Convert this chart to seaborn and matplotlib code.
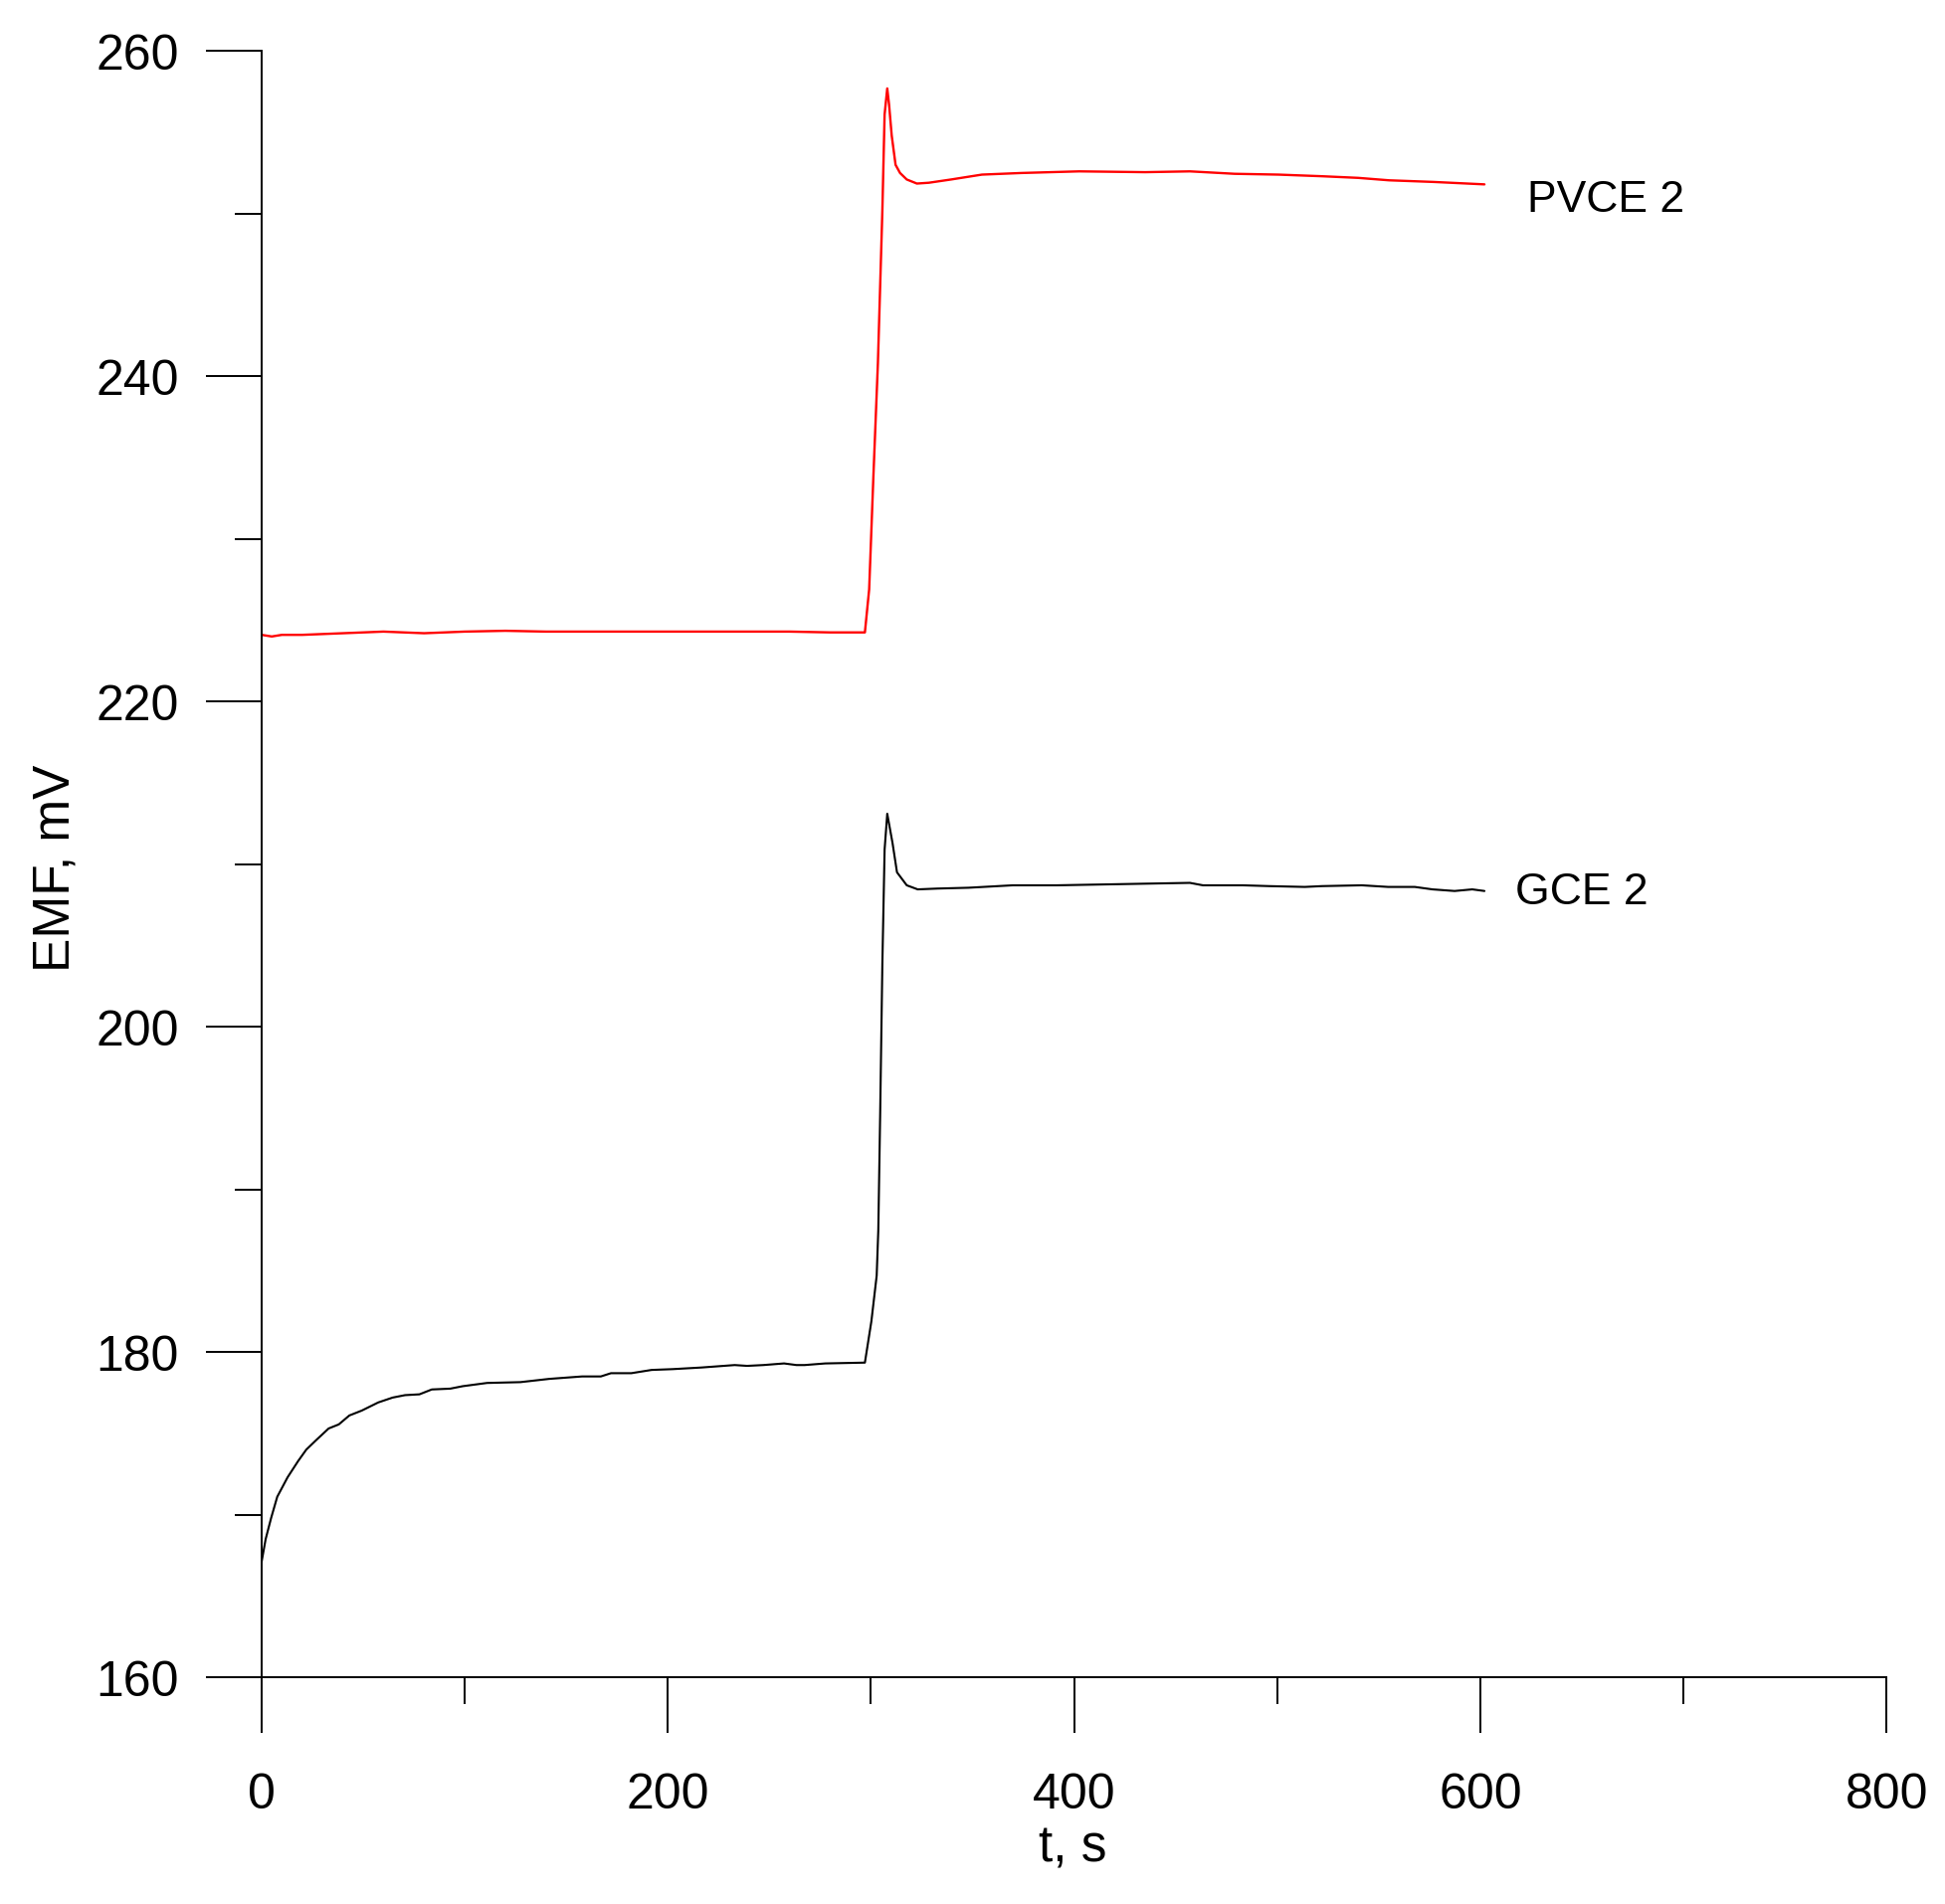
import matplotlib
matplotlib.use("Agg")
import matplotlib.pyplot as plt
import seaborn as sns
import pandas as pd
from matplotlib.ticker import MultipleLocator

# PVCE 2 (red) trace
t_pvce = [0, 5, 10, 20, 40, 60, 80, 100, 120, 140, 160, 180, 200, 220, 240, 260, 280, 297,
          299.1, 301.2, 303.4, 305.6, 306.7, 308, 308.9, 310.2, 312.1, 314.3, 317.6, 322.6,
          328.5, 339.4, 354.6, 374.2, 402.5, 435, 457, 479, 500.6, 522, 539.8, 555, 576.8, 602]
emf_pvce = [224.1, 224.0, 224.1, 224.1, 224.2, 224.3, 224.2, 224.3, 224.35, 224.3, 224.3, 224.3,
            224.3, 224.3, 224.3, 224.3, 224.25, 224.25,
            226.9, 233.9, 240.8, 250.2, 256.1, 257.7, 256.7, 254.8, 253.0, 252.5, 252.1, 251.85,
            251.9, 252.1, 252.4, 252.5, 252.6, 252.55, 252.6, 252.45, 252.4, 252.3, 252.2, 252.05,
            251.95, 251.8]

# GCE 2 (black) trace
t_gce = [0, 2, 4.7, 7.7, 12.8, 18, 22, 27, 33, 38, 43.2, 49.3, 57.4, 64.5, 70.6, 77.7, 83.8,
         92.9, 99, 111, 127.4, 141.6, 157.8, 167, 172, 182, 192, 202.4, 216.6, 232.9, 239, 247,
         257.2, 263.3, 267.3, 277.5, 297,
         300.2, 302.8, 303.6, 304.5, 305.6, 306.7, 308, 310.6, 312.8, 317.6, 323, 332.8, 348,
         369.8, 391.6, 413.4, 435.1, 457, 463.4, 483, 496, 513.5, 522, 541.6, 554.6, 567.7,
         576.4, 587.3, 596, 602]
emf_gce = [167.1, 168.5, 169.8, 171.1, 172.3, 173.3, 174.0, 174.6, 175.3, 175.55, 176.1, 176.4,
           176.9, 177.2, 177.35, 177.4, 177.7, 177.75, 177.9, 178.1, 178.15, 178.35, 178.5,
           178.5, 178.7, 178.7, 178.9, 178.95, 179.05, 179.2, 179.15, 179.2, 179.3, 179.2,
           179.2, 179.3, 179.35,
           181.9, 184.7, 187.5, 194.5, 203.9, 210.9, 213.1, 211.3, 209.5, 208.7, 208.45, 208.5,
           208.55, 208.7, 208.7, 208.75, 208.8, 208.85, 208.7, 208.7, 208.65, 208.6, 208.65,
           208.7, 208.6, 208.6, 208.45, 208.35, 208.45, 208.35]

x_ticks = [0, 200, 400, 600, 800]
y_ticks = [160, 180, 200, 220, 240, 260]

sns.set_style("ticks")
plt.rcParams["font.family"] = ["Liberation Sans", "DejaVu Sans"]
plt.rcParams["text.color"] = "black"
plt.rcParams["axes.labelcolor"] = "black"
plt.rcParams["xtick.color"] = "black"
plt.rcParams["ytick.color"] = "black"

fig = plt.figure(figsize=(19.55, 19.15), dpi=100)
ax = fig.add_axes([0.1345, 0.119, 0.8355, 0.8537])

df_pvce = pd.DataFrame({"t": t_pvce, "emf": emf_pvce})
df_gce = pd.DataFrame({"t": t_gce, "emf": emf_gce})
sns.lineplot(data=df_pvce, x="t", y="emf", ax=ax, color="#ff0000", linewidth=1.7,
             estimator=None, sort=False)
sns.lineplot(data=df_gce, x="t", y="emf", ax=ax, color="black", linewidth=1.5,
             estimator=None, sort=False)

# curve labels
ax.text(623, 250.85, "PVCE 2", fontsize=32, va="center", ha="left", color="black")
ax.text(617, 208.3, "GCE 2", fontsize=32, va="center", ha="left", color="black")

ax.set_xlim(0, 800)
ax.set_ylim(160, 260)
ax.set_xticks(x_ticks)
ax.set_yticks(y_ticks)
ax.xaxis.set_minor_locator(MultipleLocator(100))
ax.yaxis.set_minor_locator(MultipleLocator(10))

for s in ["top", "right"]:
    ax.spines[s].set_visible(False)
for s in ["left", "bottom"]:
    ax.spines[s].set_linewidth(1.4)
    ax.spines[s].set_color("black")

ax.tick_params(which="major", length=40, width=1.4, color="black", labelcolor="black",
               labelsize=36, direction="out")
ax.tick_params(axis="y", which="major", pad=20)
ax.tick_params(axis="x", which="major", pad=28)
ax.tick_params(which="minor", length=19.5, width=1.4, color="black", direction="out")

ax.set_xlabel("t, s", fontsize=37, color="black")
ax.set_ylabel("EMF, mV", fontsize=37, color="black")
ax.xaxis.set_label_coords(0.499, -0.1046)
ax.xaxis.label.set_va("center")
ax.yaxis.set_label_coords(-0.1268, 0.498)
ax.yaxis.label.set_va("center")

fig.savefig("out.png", dpi=100, facecolor="white")
